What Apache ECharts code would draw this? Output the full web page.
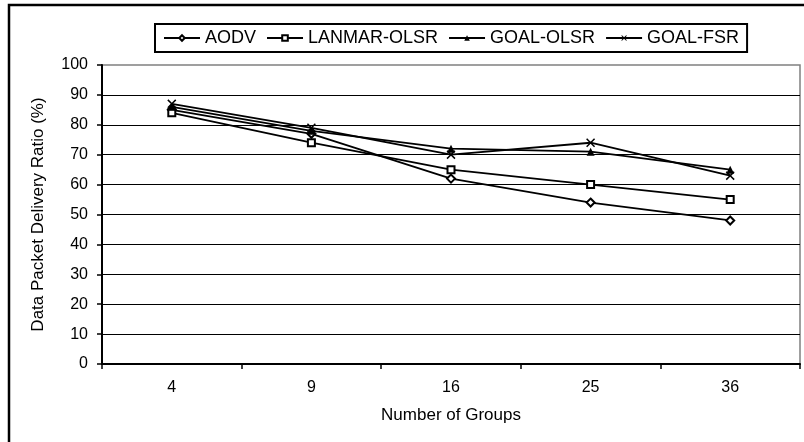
<!DOCTYPE html>
<html>
<head>
<meta charset="utf-8">
<script src="https://cdn.jsdelivr.net/npm/echarts@6/dist/echarts.min.js"></script>
<style>
html,body{margin:0;padding:0;background:#fff;}
#chart{width:804px;height:442px;}
</style>
</head>
<body>
<div id="chart"></div>
<script>
var categories = ['4', '9', '16', '25', '36'];
var aodv = [85, 77, 62, 54, 48];
var lanmarOlsr = [84, 74, 65, 60, 55];
var goalOlsr = [86, 78, 72, 71, 65];
var goalFsr = [87, 79, 70, 74, 63];
var seriesNames = ['AODV', 'LANMAR-OLSR', 'GOAL-OLSR', 'GOAL-FSR'];
var xName = 'Number of Groups';
var yName = 'Data Packet Delivery Ratio (%)';

var FONT = '"Liberation Sans", Arial, sans-serif';
var xSymbol = 'path://M0,1.2 L1.2,0 L5,3.8 L8.8,0 L10,1.2 L6.2,5 L10,8.8 L8.8,10 L5,6.2 L1.2,10 L0,8.8 L3.8,5 Z';

function mkSeries(name, data, symbol, size, borderW) {
  return {
    name: name,
    type: 'line',
    data: data,
    symbol: symbol,
    symbolSize: size,
    showAllSymbol: true,
    lineStyle: { color: '#000', width: 1.8 },
    itemStyle: { color: '#000', borderColor: '#000', borderWidth: borderW },
    emphasis: { disabled: true },
    animation: false
  };
}

var chart = echarts.init(document.getElementById('chart'));
chart.setOption({
  backgroundColor: '#fff',
  animation: false,
  textStyle: { fontFamily: FONT, color: '#000' },
  graphic: [{
    type: 'rect',
    shape: { x: 9, y: 5, width: 1200, height: 1200 },
    style: { fill: 'none', stroke: '#000', lineWidth: 2.5 },
    silent: true,
    z: 100
  }],
  legend: {
    left: 155,
    top: 24,
    padding: [5, 8, 5, 8],
    borderColor: '#000',
    borderWidth: 2,
    itemWidth: 36,
    itemHeight: 7,
    itemGap: 10,
    textStyle: { fontFamily: FONT, fontSize: 18, color: '#000' },
    data: seriesNames
  },
  grid: {
    left: 102,
    right: 4,
    top: 65,
    bottom: 78,
    show: true,
    borderColor: '#808080',
    borderWidth: 1.5,
    backgroundColor: 'transparent'
  },
  xAxis: {
    type: 'category',
    data: categories,
    boundaryGap: true,
    name: xName,
    nameLocation: 'middle',
    nameGap: 43,
    nameTextStyle: { fontFamily: FONT, fontSize: 17, color: '#000' },
    axisLine: { lineStyle: { color: '#000', width: 2 } },
    axisTick: { show: true, length: 5, lineStyle: { color: '#000', width: 1.5 } },
    axisLabel: { fontFamily: FONT, fontSize: 16, color: '#000', margin: 16 },
    splitLine: { show: false }
  },
  yAxis: {
    type: 'value',
    min: 0,
    max: 100,
    interval: 10,
    name: yName,
    nameLocation: 'middle',
    nameGap: 55,
    nameRotate: 90,
    nameTextStyle: { fontFamily: FONT, fontSize: 17, color: '#000' },
    axisLine: { show: true, lineStyle: { color: '#000', width: 2 } },
    axisTick: { show: true, length: 5, lineStyle: { color: '#000', width: 1.5 } },
    axisLabel: { fontFamily: FONT, fontSize: 16, color: '#000', margin: 14 },
    splitLine: { show: true, showMaxLine: false, lineStyle: { color: '#000', width: 1 } }
  },
  series: [
    mkSeries(seriesNames[0], aodv, 'emptyDiamond', 8, 1.5),
    mkSeries(seriesNames[1], lanmarOlsr, 'emptyRect', 7, 1.5),
    mkSeries(seriesNames[2], goalOlsr, 'triangle', 8, 0),
    mkSeries(seriesNames[3], goalFsr, xSymbol, 9, 0)
  ]
});
</script>
</body>
</html>
